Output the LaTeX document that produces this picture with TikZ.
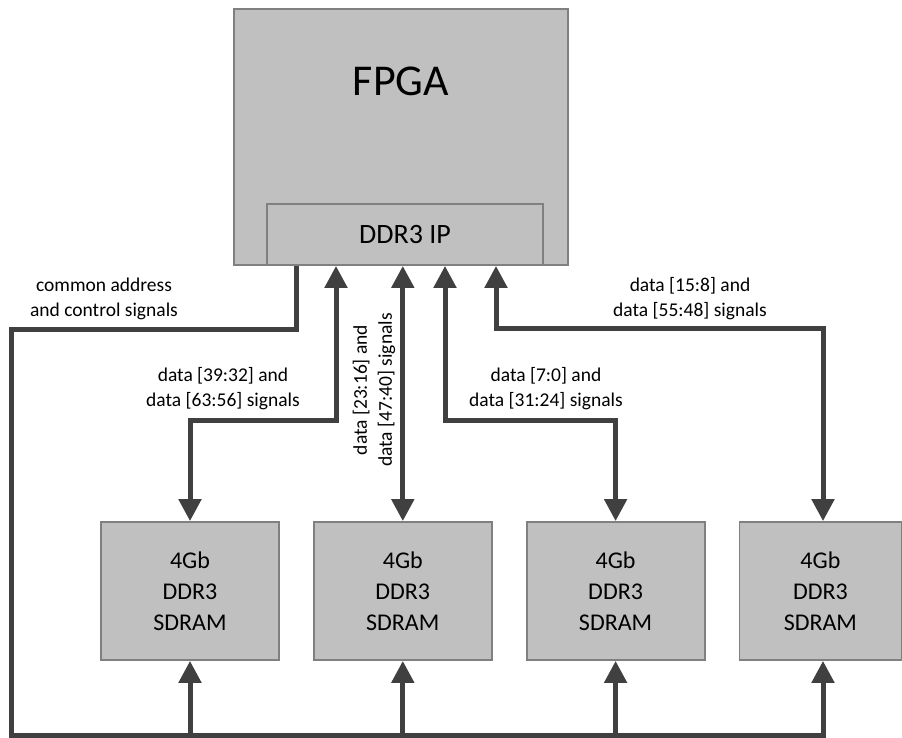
\documentclass[tikz,border=0pt]{standalone}
\usepackage{fontspec}
\setmainfont{Carlito}
\usetikzlibrary{arrows.meta,positioning}
\definecolor{boxgray}{HTML}{C0C0C0}
\definecolor{edgegray}{HTML}{808080}
\definecolor{wiregray}{HTML}{404040}
\newcommand{\fsz}[2]{\fontsize{#1}{#2}\selectfont}

\begin{document}
\begin{tikzpicture}[x=1pt, y=-1pt, >={Triangle[width=22pt,length=22pt]}, node distance=33pt,
	chip/.style={rectangle, draw=edgegray, fill=boxgray, line width=1.8pt, inner sep=0pt},
	ram/.style={chip, minimum width=178pt, minimum height=138pt, align=center, font=\fsz{24}{31}},
	link/.style={draw=wiregray, line width=5pt},
	note/.style={align=center, font=\fsz{19.5}{25}}]

		\useasboundingbox (0,0) rectangle (902,738);

		\node[chip, minimum width=334pt, minimum height=256pt,
			label={[anchor=center, yshift=-73.5pt, font=\fsz{44}{50}]north:FPGA}] (fpga) at (401,137) {};
		\node[chip, minimum width=276pt, minimum height=61pt, font=\fsz{28}{34}] (ip) at (405,234.5) {DDR3 IP};

		\node[ram] (ram1) at (190,591) {4Gb\\DDR3\\SDRAM};
		\node[ram] (ram2) [right=of ram1] {4Gb\\DDR3\\SDRAM};
		\node[ram] (ram3) [right=of ram2] {4Gb\\DDR3\\SDRAM};
		\node[ram, minimum width=162pt] (ram4) [right=of ram3] {4Gb\\DDR3\\SDRAM};

		\coordinate (ctl) at (296,329);
		\coordinate (bus) at (11,735.5);
		\coordinate (d1) at (336,420);
		\coordinate (d3) at (445,420);
		\coordinate (d4) at (496,328);
		\coordinate (e4) at (823,328);

		% address / control bus
		\draw[link, ->] (ip.south -| ctl) -- (ctl) -| (bus) -| (ram4.south -| e4);
		\foreach \r in {ram1,ram2,ram3}
			\draw[link, ->] (\r.south |- bus) -- (\r.south);

		% data lanes
		\draw[link, <->] (ip.south -| d1) -- (d1) -| (ram1.north);
		\draw[link, <->] (ip.south -| ram2.north) -- (ram2.north);
		\draw[link, <->] (ip.south -| d3) -- (d3) -| (ram3.north);
		\draw[link, <->] (ip.south -| d4) -- (d4) -- (e4) -- (ram4.north -| e4);

		\node[note] (lctl) at (104,299) {common address\\and control signals};
		\node[note] (l1) at (223,389) {data [39:32] and\\data [63:56] signals};
		\node[note, rotate=90] (l2) at (374,390) {data [23:16] and\\data [47:40] signals};
		\node[note] (l3) at (546,389) {data [7:0] and\\data [31:24] signals};
		\node[note] (l4) at (690,299) {data [15:8] and\\data [55:48] signals};

\end{tikzpicture}
\end{document}
